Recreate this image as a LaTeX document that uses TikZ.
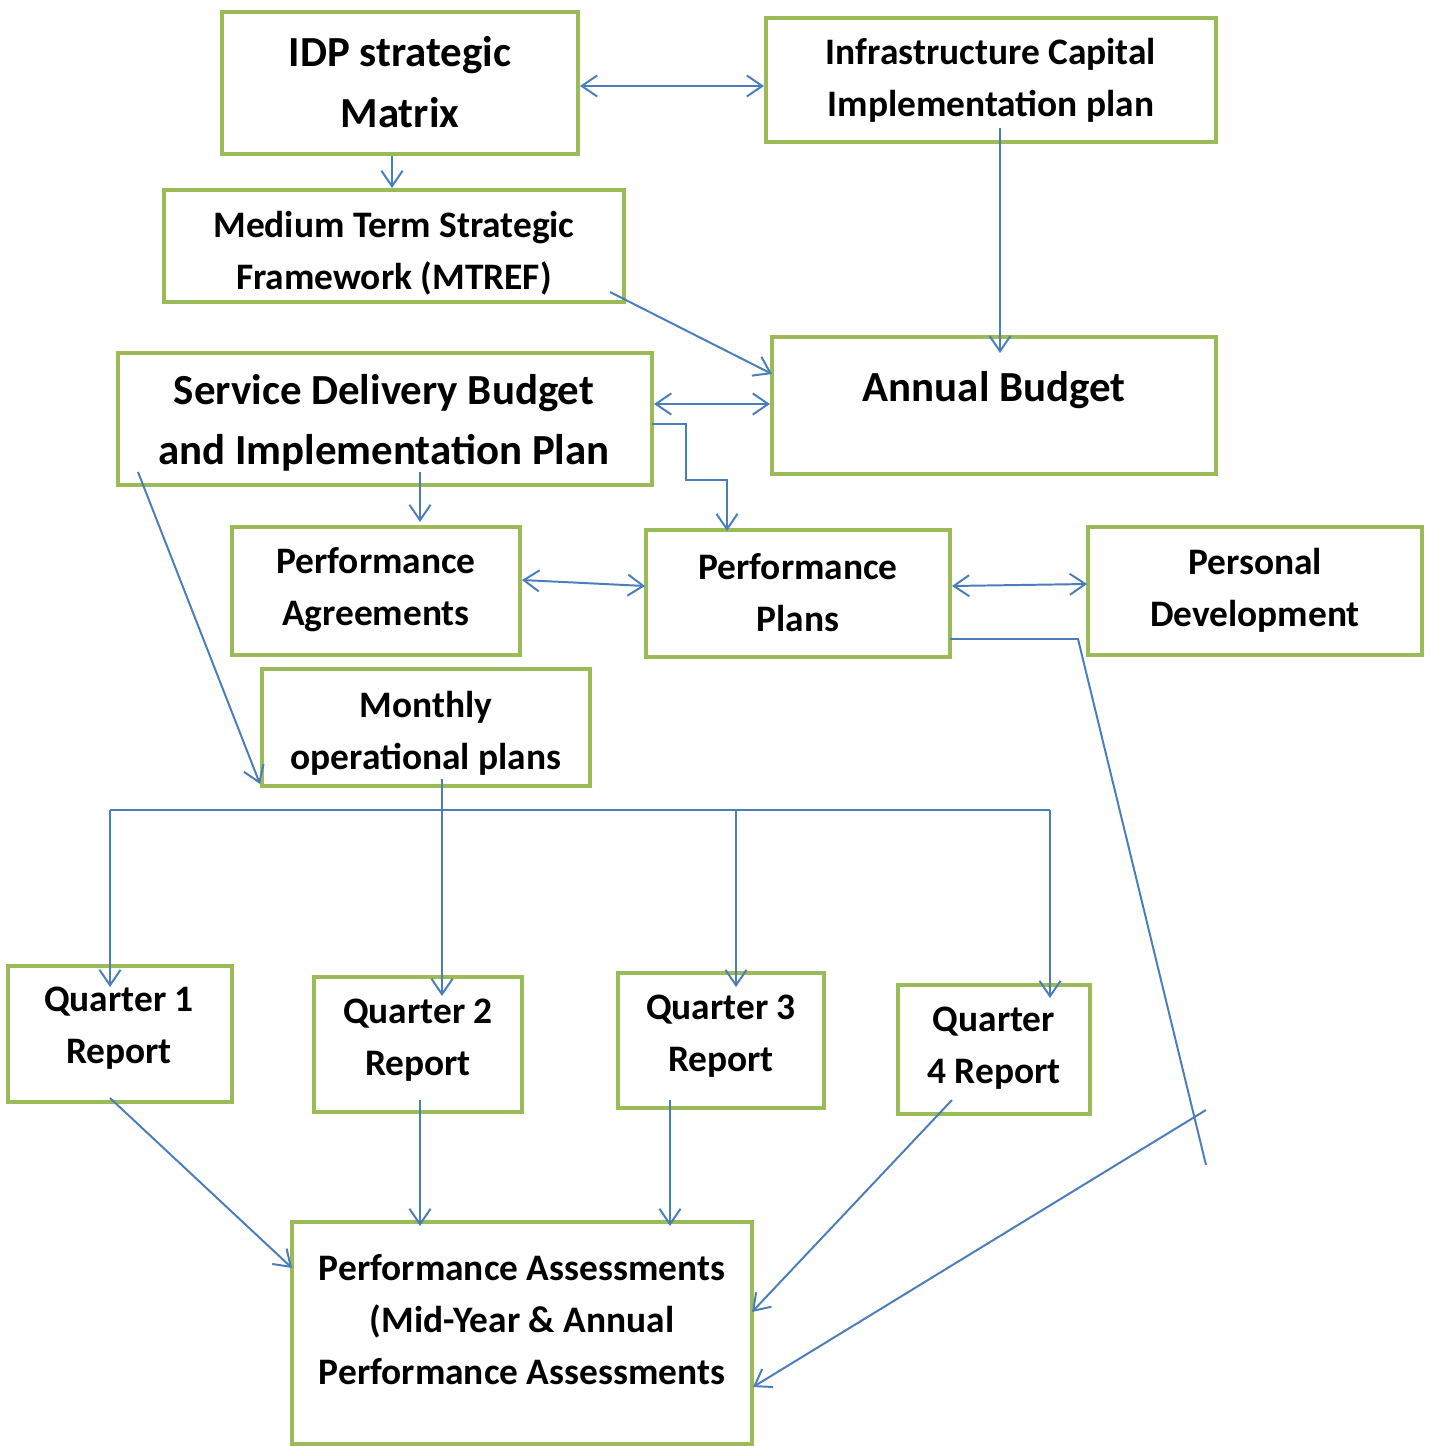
\documentclass[tikz,border=0pt]{standalone}
\usepackage{fontspec}
\setmainfont{Carlito}
\usetikzlibrary{arrows.meta,fit}
\definecolor{boxgreen}{HTML}{9BBB59}
\definecolor{lineblue}{HTML}{4A7EBB}
\tikzset{
  box/.style={draw=boxgreen, line width=0.1cm, inner sep=0pt, fit={#1}},
  txt/.style={align=center, font=\bfseries\fontsize{26.6}{37}\selectfont, inner sep=0pt},
  bigtxt/.style={align=center, font=\bfseries\fontsize{30.5}{43}\selectfont, inner sep=0pt},
  conn/.style={draw=lineblue, line width=1.4pt},
  arr/.style={conn, -{Straight Barb[length=11pt,width=15pt,line width=1.4pt]}},
  darr/.style={conn, {Straight Barb[length=11pt,width=15pt,line width=1.4pt]}-{Straight Barb[length=11pt,width=15pt,line width=1.4pt]}}
}
\begin{document}
\begin{tikzpicture}[x=0.025cm,y=-0.025cm]
\useasboundingbox (0,0) rectangle (1432,1446);
% boxes
\node[box={(222,12) (578,154)}] (idp) {};
\node[box={(766,18) (1216,142)}] (infra) {};
\node[box={(164,190) (624,302)}] (mtref) {};
\node[box={(772,337) (1216,474)}] (annual) {};
\node[box={(118,353) (652,485)}] (sdbip) {};
\node[box={(232,527) (520,655)}] (pagr) {};
\node[box={(646,530) (950,657)}] (pplan) {};
\node[box={(1088,527) (1422,655)}] (pdev) {};
\node[box={(262,669) (590,786)}] (month) {};
\node[box={(8,966) (232,1102)}] (q1) {};
\node[box={(314,977) (522,1112)}] (q2) {};
\node[box={(618,973) (824,1108)}] (q3) {};
\node[box={(898,985) (1090,1114)}] (q4) {};
\node[box={(292,1222) (752,1444)}] (pa) {};
% texts
\node[bigtxt] (idp-t) at (400,82) {IDP strategic\\Matrix};
\node[txt] (infra-t) at (991,80) {Infrastructure Capital\\Implementation plan};
\node[txt] (mtref-t) at (394,253) {Medium Term Strategic\\Framework (MTREF)};
\node[bigtxt] (annual-t) at (994,390) {Annual Budget};
\node[bigtxt] (sdbip-t) at (384,423) {Service Delivery Budget\\and Implementation Plan};
\node[txt] (pagr-t) at (376,590) {Performance\\Agreements};
\node[txt] (pplan-t) at (798,593) {Performance\\Plans};
\node[txt] (pdev-t) at (1255,590) {Personal\\Development};
\node[txt] (month-t) at (426,733) {Monthly\\operational plans};
\node[txt] (q1-t) at (119,1028) {Quarter 1\\Report};
\node[txt] (q2-t) at (418,1040) {Quarter 2\\Report};
\node[txt] (q3-t) at (721,1036) {Quarter 3\\Report};
\node[txt] (q4-t) at (994,1048) {Quarter\\4 Report};
\node[txt] (pa-t) at (522,1320) {Performance Assessments\\(Mid-Year \& Annual\\Performance Assessments};
% connector points
\coordinate (a1) at (580,86);   \coordinate (a2) at (764,86);
\coordinate (b1) at (392,156);  \coordinate (b2) at (392,188);
\coordinate (c1) at (1000,128); \coordinate (c2) at (1000,353);
\coordinate (d1) at (610,292);  \coordinate (d2) at (772,374);
\coordinate (e1) at (654,404);  \coordinate (e2) at (770,404);
\coordinate (f1) at (652,424);  \coordinate (f2) at (727,531);
\coordinate (g1) at (420,472);  \coordinate (g2) at (420,522);
\coordinate (h1) at (522,580);  \coordinate (h2) at (645,586);
\coordinate (i1) at (952,586);  \coordinate (i2) at (1087,584);
\coordinate (j1) at (950,639);  \coordinate (j2) at (1206,1165);
\coordinate (k1) at (1206,1110); \coordinate (k2) at (753,1387);
\coordinate (l1) at (138,472);  \coordinate (l2) at (260,784);
\coordinate (m1) at (442,779);  \coordinate (m2) at (442,996);
\coordinate (busl) at (110,810); \coordinate (busr) at (1050,810);
\coordinate (n1) at (110,987);  \coordinate (n3) at (736,987); \coordinate (n4) at (1050,998);
\coordinate (o1) at (110,1098); \coordinate (o2) at (292,1268);
\coordinate (p1) at (420,1100); \coordinate (p2) at (420,1226);
\coordinate (r1) at (670,1100); \coordinate (r2) at (670,1226);
\coordinate (s1) at (952,1100); \coordinate (s2) at (752,1312);
% connectors
\draw[darr] (a1) -- (a2);
\draw[arr] (b1) -- (b2);
\draw[arr] (c1) -- (c2);
\draw[arr] (d1) -- (d2);
\draw[darr] (e1) -- (e2);
\draw[arr] (f1) -- (686,424) -- (686,480) -- (727,480) -- (f2);
\draw[arr] (g1) -- (g2);
\draw[darr] (h1) -- (h2);
\draw[darr] (i1) -- (i2);
\draw[conn] (j1) -- (1078,639) -- (j2);
\draw[arr] (k1) -- (k2);
\draw[arr] (l1) -- (l2);
\draw[arr] (m1) -- (m2);
\draw[conn] (busl) -- (busr);
\draw[arr] (busl) -- (n1);
\draw[arr] (736,810) -- (n3);
\draw[arr] (busr) -- (n4);
\draw[arr] (o1) -- (o2);
\draw[arr] (p1) -- (p2);
\draw[arr] (r1) -- (r2);
\draw[arr] (s1) -- (s2);
\end{tikzpicture}
\end{document}
